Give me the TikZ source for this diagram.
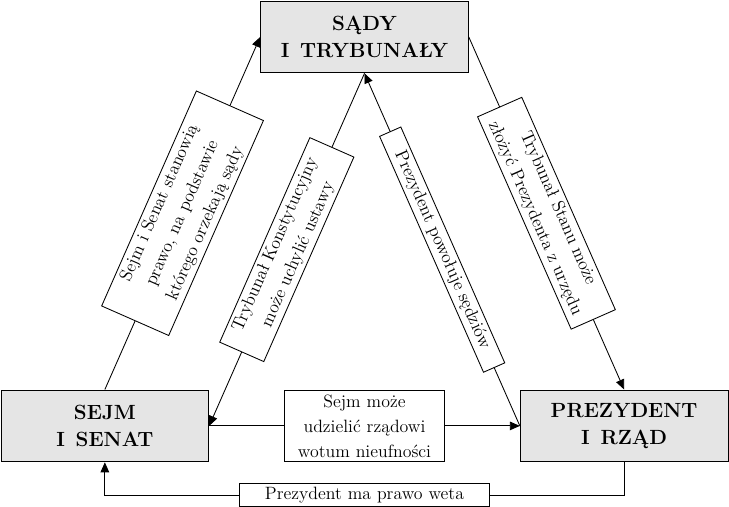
\documentclass[tikz,border=0pt]{standalone}
\usepackage{fontspec}
\setmainfont{Latin Modern Roman}[WordSpace=1.4]
\usepackage{tikz}
\usetikzlibrary{arrows.meta}

\begin{document}
\begin{tikzpicture}[x=0.7pt, y=-0.7pt,
    organ/.style={draw=black, semithick, fill=black!10, align=center,
        minimum width=145.6pt, minimum height=50.4pt, inner sep=0pt,
        font=\fontsize{14.4}{19.2}\selectfont\bfseries},
    opis/.style={draw=black, semithick, fill=white, align=center,
        inner xsep=3.33pt, inner ysep=2.5pt,
        font=\fontsize{12.5}{17.5}\selectfont},
    strz/.style={semithick, -{Triangle[length=7pt,width=6pt]}}]

    \useasboundingbox (-0.5,-0.5) rectangle (729.5,506.5);

    % Organy wladzy
    \node[organ] (sady) at (364.5,36.5) {SĄDY\\I TRYBUNAŁY};
    \node[organ] (sejm) at (104.5,426) {SEJM\\I SENAT};
    \node[organ] (prez) at (624.5,426) {PREZYDENT\\I RZĄD};

    % Strzalki ukosne
    \draw[strz] (sejm.north) -- node[opis, sloped, text width=158pt]
        {Sejm i Senat stanowią\\prawo, na podstawie\\którego orzekają sądy} (sady.west);
    \draw[strz] (sady.south) -- node[opis, sloped, text width=150pt]
        {Trybunał Konstytucyjny\\może uchylić ustawy} (sejm.east);
    \draw[strz] (prez.west) -- node[opis, sloped, text width=174pt]
        {Prezydent powołuje sędziów} (sady.south);
    \draw[strz] (sady.east) -- node[opis, sloped, text width=156pt]
        {Trybunał Stanu może\\złożyć Prezydenta z urzędu} (prez.north);

    % Strzalki dolne
    \draw[strz] (sejm.east) -- node[opis, text width=105pt, minimum height=50.4pt]
        {Sejm może\\udzielić rządowi\\wotum nieufności} (prez.west);
    \draw[strz] (prez.south) -- ++(0,33) -| node[opis, pos=0.25, text width=168pt]
        {Prezydent ma prawo weta} (sejm.south);
\end{tikzpicture}
\end{document}
